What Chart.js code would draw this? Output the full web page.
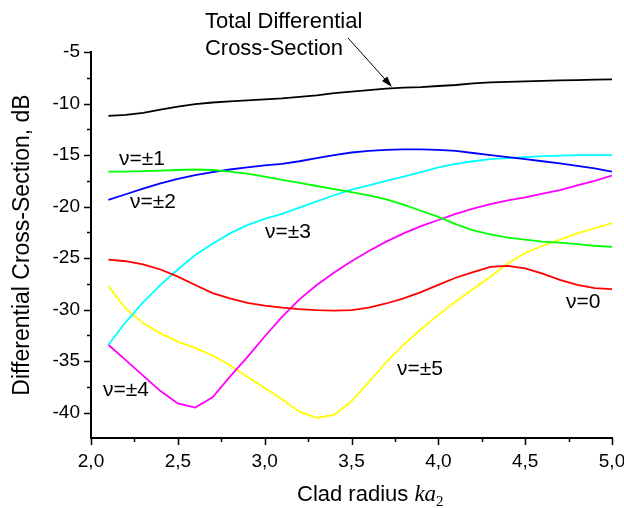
<!DOCTYPE html>
<html>
<head>
<meta charset="utf-8">
<script src="https://cdn.jsdelivr.net/npm/chart.js@4.4.0/dist/chart.umd.min.js"></script>
<style>
  html, body { margin: 0; padding: 0; background: #fff; }
</style>
</head>
<body>
<canvas id="chart" width="624" height="508"></canvas>
<script>
// clad radius ka2 (x axis)
const kaValues = [2.1, 2.2, 2.3, 2.4, 2.5, 2.6, 2.7, 2.8, 2.9, 3.0,
                  3.1, 3.2, 3.3, 3.4, 3.5, 3.6, 3.7, 3.8, 3.9, 4.0,
                  4.1, 4.2, 4.3, 4.4, 4.5, 4.6, 4.7, 4.8, 4.9, 5.0];

// differential cross-section, dB
const totalCS = [-11.2, -11.1, -10.9, -10.6, -10.3, -10.05, -9.9, -9.8, -9.7, -9.6,
                 -9.5, -9.35, -9.2, -9.0, -8.85, -8.7, -8.55, -8.45, -8.4, -8.3,
                 -8.2, -8.05, -7.95, -7.9, -7.85, -7.8, -7.75, -7.72, -7.68, -7.65];
const nu0 = [-25.15, -25.3, -25.6, -26.1, -26.8, -27.6, -28.4, -28.9, -29.35, -29.6,
             -29.8, -29.95, -30.05, -30.1, -30.05, -29.8, -29.4, -28.9, -28.3, -27.6,
             -26.9, -26.35, -25.85, -25.75, -26.0, -26.5, -27.1, -27.6, -27.9, -28.0];
const nu1 = [-16.6, -16.6, -16.55, -16.5, -16.45, -16.4, -16.45, -16.6, -16.8, -17.1,
             -17.4, -17.7, -18.0, -18.3, -18.6, -18.9, -19.3, -19.8, -20.4, -21.0,
             -21.7, -22.3, -22.7, -23.0, -23.2, -23.4, -23.5, -23.65, -23.8, -23.9];
const nu2 = [-19.35, -18.8, -18.25, -17.75, -17.3, -16.95, -16.65, -16.4, -16.2, -16.0,
             -15.85, -15.6, -15.3, -15.0, -14.75, -14.6, -14.5, -14.45, -14.45, -14.5,
             -14.6, -14.8, -15.0, -15.2, -15.4, -15.6, -15.8, -16.05, -16.3, -16.6];
const nu3 = [-33.4, -31.2, -29.3, -27.6, -26.1, -24.7, -23.6, -22.6, -21.8, -21.2,
             -20.7, -20.1, -19.5, -18.9, -18.35, -17.95, -17.5, -17.1, -16.65, -16.2,
             -15.85, -15.6, -15.4, -15.3, -15.2, -15.1, -15.05, -15.0, -15.0, -15.0];
const nu4 = [-33.4, -34.9, -36.4, -37.9, -39.1, -39.5, -38.5, -36.5, -34.6, -32.6,
             -30.7, -29.0, -27.6, -26.4, -25.3, -24.3, -23.4, -22.6, -21.9, -21.3,
             -20.7, -20.2, -19.75, -19.4, -19.1, -18.75, -18.4, -17.95, -17.5, -17.0];
const nu5 = [-27.7, -29.9, -31.3, -32.3, -33.1, -33.7, -34.45, -35.4, -36.5, -37.6,
             -38.7, -39.9, -40.5, -40.2, -38.9, -37.0, -35.1, -33.4, -31.9, -30.5,
             -29.2, -28.0, -26.8, -25.5, -24.5, -23.8, -23.2, -22.6, -22.1, -21.6];

// axes ticks
const xTicks = [2.0, 2.5, 3.0, 3.5, 4.0, 4.5, 5.0];
const xMinorTicks = [2.25, 2.75, 3.25, 3.75, 4.25, 4.75];
const yTicks = [-40, -35, -30, -25, -20, -15, -10, -5];
const yMinorTicks = [-37.5, -32.5, -27.5, -22.5, -17.5, -12.5, -7.5];

// text labels placed in data coordinates
const curveLabels = [
    { text: 'ν=±1', x: 2.161, y: -15.95 },
    { text: 'ν=±2', x: 2.225, y: -20.12 },
    { text: 'ν=±3', x: 3.002, y: -23.02 },
    { text: 'ν=0',  x: 4.735, y: -29.81 },
    { text: 'ν=±5', x: 3.762, y: -36.30 },
    { text: 'ν=±4', x: 2.069, y: -38.33 }
];
const noteLines = [
    { text: 'Total Differential', x: 2.656, y: -2.67 },
    { text: 'Cross-Section', x: 2.656, y: -5.29 }
];
const arrowFrom = { x: 3.48, y: -3.64 };
const arrowTo = { x: 3.733, y: -8.39 };

const SANS = '"Liberation Sans", Arial, sans-serif';
const SERIF = '"Liberation Serif", "Times New Roman", serif';

function toPoints(ys) {
    return kaValues.map((x, i) => ({ x: x, y: ys[i] }));
}

function makeSet(label, ys, color) {
    return {
        label: label,
        data: toPoints(ys),
        borderColor: color,
        backgroundColor: color,
        borderWidth: 1.8,
        pointRadius: 0,
        tension: 0,
        fill: false
    };
}

// ticks, annotations and axis titles
const decorations = {
    id: 'decorations',
    afterDraw(chart) {
        const { ctx, chartArea } = chart;
        const xs = chart.scales.x;
        const ys = chart.scales.y;
        ctx.save();
        ctx.strokeStyle = '#000';
        ctx.lineWidth = 1.5;

        // tick marks (outside)
        ctx.beginPath();
        xTicks.forEach(v => {
            const px = Math.round(xs.getPixelForValue(v)) + 0.5;
            ctx.moveTo(px, chartArea.bottom);
            ctx.lineTo(px, chartArea.bottom + 7);
        });
        xMinorTicks.forEach(v => {
            const px = Math.round(xs.getPixelForValue(v)) + 0.5;
            ctx.moveTo(px, chartArea.bottom);
            ctx.lineTo(px, chartArea.bottom + 4);
        });
        yTicks.forEach(v => {
            const py = Math.round(ys.getPixelForValue(v)) + 0.5;
            ctx.moveTo(chartArea.left, py);
            ctx.lineTo(chartArea.left - 7, py);
        });
        yMinorTicks.forEach(v => {
            const py = Math.round(ys.getPixelForValue(v)) + 0.5;
            ctx.moveTo(chartArea.left, py);
            ctx.lineTo(chartArea.left - 4, py);
        });
        ctx.stroke();

        // curve labels
        ctx.fillStyle = '#000';
        ctx.textAlign = 'left';
        ctx.textBaseline = 'alphabetic';
        ctx.font = '21px ' + SANS;
        curveLabels.forEach(l => {
            ctx.fillText(l.text, xs.getPixelForValue(l.x), ys.getPixelForValue(l.y));
        });
        ctx.font = '22px ' + SANS;
        noteLines.forEach(l => {
            ctx.fillText(l.text, xs.getPixelForValue(l.x), ys.getPixelForValue(l.y));
        });

        // arrow to the total curve
        const x1 = xs.getPixelForValue(arrowFrom.x), y1 = ys.getPixelForValue(arrowFrom.y);
        const x2 = xs.getPixelForValue(arrowTo.x), y2 = ys.getPixelForValue(arrowTo.y);
        const ang = Math.atan2(y2 - y1, x2 - x1);
        ctx.lineWidth = 1;
        ctx.beginPath();
        ctx.moveTo(x1, y1);
        ctx.lineTo(x2 - 8 * Math.cos(ang), y2 - 8 * Math.sin(ang));
        ctx.stroke();
        ctx.beginPath();
        ctx.moveTo(x2, y2);
        ctx.lineTo(x2 - 11 * Math.cos(ang) + 3.5 * Math.sin(ang), y2 - 11 * Math.sin(ang) - 3.5 * Math.cos(ang));
        ctx.lineTo(x2 - 11 * Math.cos(ang) - 3.5 * Math.sin(ang), y2 - 11 * Math.sin(ang) + 3.5 * Math.cos(ang));
        ctx.closePath();
        ctx.fill();

        // y axis title
        ctx.save();
        ctx.translate(23, (chartArea.top + chartArea.bottom) / 2);
        ctx.rotate(-Math.PI / 2);
        ctx.textAlign = 'center';
        ctx.textBaseline = 'middle';
        ctx.font = '23px ' + SANS;
        ctx.fillText('Differential Cross-Section, dB', 0, 0);
        ctx.restore();

        // x axis title: Clad radius ka2
        const base = 501;
        let cx = chartArea.left + 206;
        ctx.font = '22px ' + SANS;
        ctx.fillText('Clad radius ', cx, base);
        cx += ctx.measureText('Clad radius ').width;
        ctx.font = 'italic 23px ' + SERIF;
        ctx.fillText('ka', cx, base);
        cx += ctx.measureText('ka').width;
        ctx.font = '15px ' + SERIF;
        ctx.fillText('2', cx, base + 5);

        ctx.restore();
    }
};

const ctx = document.getElementById('chart').getContext('2d');
window.csChart = new Chart(ctx, {
    type: 'line',
    data: {
        datasets: [
            makeSet('Total', totalCS, '#000000'),
            makeSet('ν=0', nu0, '#ff0000'),
            makeSet('ν=±1', nu1, '#00ff00'),
            makeSet('ν=±2', nu2, '#0000ff'),
            makeSet('ν=±3', nu3, '#00ffff'),
            makeSet('ν=±4', nu4, '#ff00ff'),
            makeSet('ν=±5', nu5, '#ffff00')
        ]
    },
    options: {
        responsive: false,
        animation: false,
        layout: { padding: { top: 52, right: 12, bottom: 0, left: 0 } },
        plugins: {
            legend: { display: false },
            tooltip: { enabled: false }
        },
        scales: {
            x: {
                type: 'linear',
                min: 2.0,
                max: 5.0,
                afterBuildTicks: scale => { scale.ticks = xTicks.map(v => ({ value: v })); },
                afterFit: scale => {
                    scale.height = 70;
                    scale.paddingLeft = 0;
                    scale.paddingRight = 0;
                },
                grid: { display: false, drawTicks: false },
                border: { display: true, color: '#000', width: 2 },
                ticks: {
                    color: '#000',
                    padding: 12,
                    maxRotation: 0,
                    autoSkip: false,
                    font: { family: SANS, size: 19 },
                    callback: v => v.toFixed(1).replace('.', ',')
                }
            },
            y: {
                min: -42.45,
                max: -5,
                afterBuildTicks: scale => { scale.ticks = yTicks.map(v => ({ value: v })); },
                afterFit: scale => {
                    scale.width = 91;
                    scale.paddingTop = 0;
                    scale.paddingBottom = 0;
                },
                grid: { display: false, drawTicks: false },
                border: { display: true, color: '#000', width: 2 },
                ticks: {
                    color: '#000',
                    padding: 11,
                    autoSkip: false,
                    font: { family: SANS, size: 19 },
                    callback: v => String(v)
                }
            }
        }
    },
    plugins: [decorations]
});
</script>
</body>
</html>
